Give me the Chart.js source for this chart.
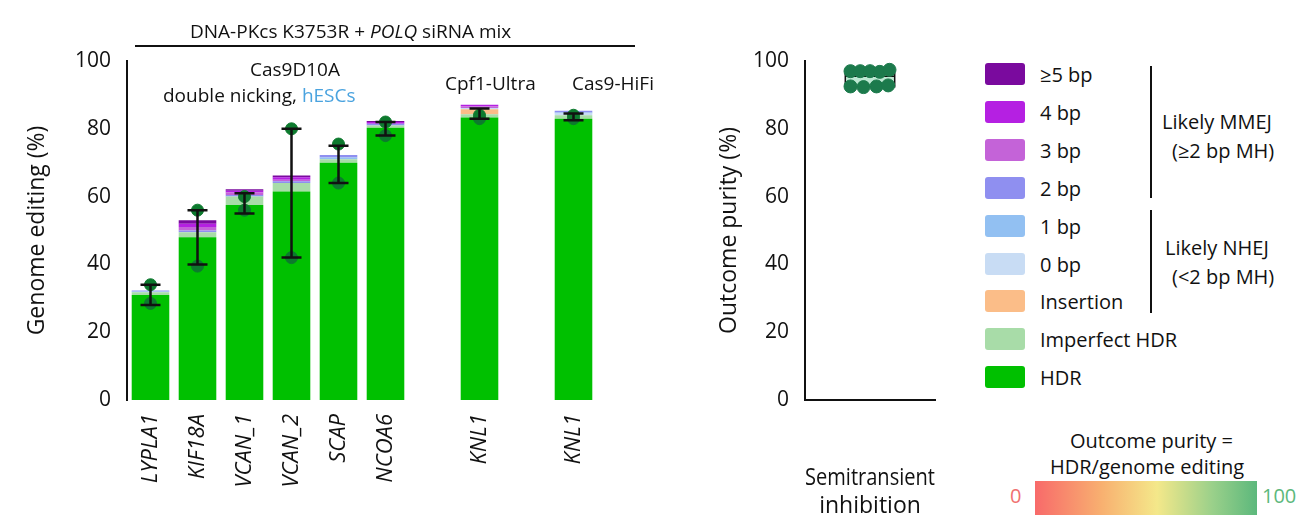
<!DOCTYPE html>
<html><head><meta charset="utf-8">
<script src="https://cdn.jsdelivr.net/npm/chart.js@4"></script>
<style>
body{margin:0;width:1300px;height:524px;position:relative;background:#fff;font-family:"Open Sans",sans-serif;color:#111;overflow:hidden}
canvas{position:absolute;top:0}
.t{position:absolute;font-size:19px;white-space:nowrap}
.sw{position:absolute;left:985px;width:40px;height:22px;border-radius:3px}
.lg{position:absolute;left:1040px;font-size:20px;transform:translateY(-50%)}
.br{position:absolute;width:2px;background:#111;left:1150px}
</style></head><body>
<canvas id="left" width="700" height="524" style="left:0"></canvas>
<canvas id="right" width="260" height="524" style="left:700px"></canvas>
<div class="t" style="left:190px;top:18px">DNA-PKcs K3753R + <i>POLQ</i> siRNA mix</div>
<div style="position:absolute;left:135px;top:45px;width:500px;height:2px;background:#111"></div>
<div class="t" style="left:250px;top:56px">Cas9D10A</div>
<div class="t" style="left:163px;top:82px">double nicking, <span style="color:#4aa3df">hESCs</span></div>
<div class="t" style="left:445px;top:70px">Cpf1-Ultra</div>
<div class="t" style="left:572px;top:70px">Cas9-HiFi</div>
<div id="legend"></div>
<div class="br" style="top:66px;height:132px"></div>
<div class="br" style="top:210px;height:103px"></div>
<div class="t" style="left:1162px;top:108px;font-size:20px">Likely MMEJ</div>
<div class="t" style="left:1172px;top:137px;font-size:20px">(≥2 bp MH)</div>
<div class="t" style="left:1165px;top:234px;font-size:20px">Likely NHEJ</div>
<div class="t" style="left:1172px;top:263px;font-size:20px">(&lt;2 bp MH)</div>
<div class="t" style="left:1070px;top:427px;font-size:20px">Outcome purity =</div>
<div class="t" style="left:1050px;top:453px;font-size:20px">HDR/genome editing</div>
<div style="position:absolute;left:1035px;top:481px;width:222px;height:34px;background:linear-gradient(90deg,#f86a6a,#f8b070 30%,#f4e88a 55%,#9ad08a 80%,#5cb87c)"></div>
<div class="t" style="left:1010px;top:482px;font-size:20px;color:#f07070">0</div>
<div class="t" style="left:1262px;top:482px;font-size:20px;color:#5cb87c">100</div>
<script>
const genes = ['LYPLA1','KIF18A','VCAN_1','VCAN_2','SCAP','NCOA6','','KNL1','','KNL1'];
const hdr       = [31, 48, 57.5, 61.5, 70, 80.3, null, 83.3, null, 83];
const imperfect = [0.8, 1.5, 2.5, 2.5, 1, 0.7, null, 1, null, 1];
const insertion = [0, 0, 0, 0, 0, 0, null, 1.5, null, 0];
const bp0       = [0, 0, 0, 0, 0, 0, null, 0.3, null, 0.5];
const bp1       = [0.2, 0, 0, 0, 0.5, 0, null, 0, null, 0.3];
const bp2       = [0.3, 0.5, 0.5, 0.5, 0.8, 0.5, null, 0, null, 0.5];
const bp3       = [0, 1, 0.7, 0.5, 0, 0, null, 0.5, null, 0];
const bp4       = [0, 1, 0.5, 0.7, 0, 0.5, null, 0.5, null, 0];
const bp5       = [0, 1, 0.5, 0.5, 0, 0.3, null, 0, null, 0];
const repLow    = [28.5, 39.5, 56, 42, 64, 78, null, 83, null, 83];
const repHigh   = [34, 56, 60, 80, 75.5, 82, null, 84, null, 84];
const errLow    = [28, 40, 55, 42, 64, 78, null, 83, null, 82.5];
const errHigh   = [34, 56, 61, 80, 75, 82, null, 86, null, 84.5];
const yTicks = [0, 20, 40, 60, 80, 100];

const purityX = [-0.3, -0.15, 0, 0.15, 0.3, -0.3, -0.1, 0.1, 0.28];
const purityY = [97, 97, 97, 96.8, 97.4, 92.5, 92.3, 92.5, 92.8];
const boxStats = {q1: 92.4, median: 95.5, q3: 96.3};

const seriesNames = ['HDR','Imperfect HDR','Insertion','0 bp','1 bp','2 bp','3 bp','4 bp','≥5 bp'];
const seriesData = [hdr, imperfect, insertion, bp0, bp1, bp2, bp3, bp4, bp5];
const seriesColors = ['#00c000','#a8dca8','#fbbd88','#c8dcf4','#92c0f2','#8f8ff0','#c463d8','#b520e2','#7a0a9e'];

// legend, top item first
const legendY = [74,112,150,188,226,264,301,339,377];
let lg = '';
for (let i = 0; i < 9; i++) {
  const k = 8 - i;
  lg += `<div class="sw" style="top:${legendY[i]-11}px;background:${seriesColors[k]}"></div>`;
  lg += `<div class="lg" style="top:${legendY[i]}px">${seriesNames[k]}</div>`;
}
document.getElementById('legend').innerHTML = lg;

const font = {family: '"Open Sans", sans-serif', size: 21};
Chart.defaults.color = '#111';

const errorBars = {
  id: 'errorBars',
  afterDatasetsDraw(chart) {
    const {ctx, scales: {x, y}} = chart;
    ctx.save();
    ctx.strokeStyle = '#111';
    ctx.lineWidth = 2.5;
    errLow.forEach((lo, i) => {
      if (lo == null) return;
      const px = x.getPixelForValue(i);
      const a = y.getPixelForValue(lo), b = y.getPixelForValue(errHigh[i]);
      ctx.beginPath();
      ctx.moveTo(px, a); ctx.lineTo(px, b);
      ctx.moveTo(px - 10, a); ctx.lineTo(px + 10, a);
      ctx.moveTo(px - 10, b); ctx.lineTo(px + 10, b);
      ctx.stroke();
    });
    ctx.restore();
  }
};

const barSets = seriesData.map((d, i) => ({
  type: 'bar', data: d, backgroundColor: seriesColors[i], stack: 's',
  barPercentage: 0.8, categoryPercentage: 1, order: 2
}));
const ptStyle = {type: 'line', showLine: false, pointRadius: 6, pointBackgroundColor: '#0d7a2e',
  pointBorderColor: '#0d7a2e', order: 1};

new Chart(document.getElementById('left'), {
  data: {labels: genes, datasets: [...barSets,
    {...ptStyle, data: repLow, stack: 'p1'}, {...ptStyle, data: repHigh, stack: 'p2'}]},
  options: {
    responsive: false, animation: false,
    layout: {padding: {top: 61, left: 20, right: 103, bottom: 0}},
    plugins: {legend: {display: false}, tooltip: {enabled: false}},
    scales: {
      x: {stacked: true, grid: {display: false}, border: {display: false},
        afterFit: ax => { ax.height = 124; },
        ticks: {font: {...font, style: 'italic', size: 22}, minRotation: 90, maxRotation: 90, padding: 6}},
      y: {stacked: true, min: 0, max: 100, grid: {display: false},
        border: {color: '#111', width: 2},
        afterFit: ax => { ax.width = 107; },
        afterBuildTicks: ax => { ax.ticks = yTicks.map(v => ({value: v})); },
        ticks: {font, padding: 8},
        title: {display: true, text: 'Genome editing (%)', font: {...font, size: 23}}}
    }
  },
  plugins: [errorBars]
});

const boxPlot = {
  id: 'boxPlot',
  beforeDatasetsDraw(chart) {
    const {ctx, scales: {x, y}} = chart;
    const l = x.getPixelForValue(-0.38), r = x.getPixelForValue(0.38);
    const t = y.getPixelForValue(boxStats.q3), b = y.getPixelForValue(boxStats.q1);
    ctx.save();
    ctx.fillStyle = '#bde8d2';
    ctx.strokeStyle = '#111';
    ctx.lineWidth = 1.5;
    ctx.fillRect(l, t, r - l, b - t);
    ctx.strokeRect(l, t, r - l, b - t);
    const m = y.getPixelForValue(boxStats.median);
    ctx.beginPath(); ctx.moveTo(l, m); ctx.lineTo(r, m); ctx.stroke();
    ctx.restore();
  }
};

new Chart(document.getElementById('right'), {
  type: 'scatter',
  data: {datasets: [{data: purityX.map((x, i) => ({x, y: purityY[i]})),
    pointRadius: 6.5, pointBackgroundColor: '#1c7a4c', pointBorderColor: '#1c7a4c'}]},
  options: {
    responsive: false, animation: false,
    layout: {padding: {top: 61, left: 12, right: 25, bottom: 0}},
    plugins: {legend: {display: false}, tooltip: {enabled: false}},
    scales: {
      x: {min: -1, max: 1, grid: {display: false}, border: {color: '#111', width: 2},
        afterFit: ax => { ax.height = 124; },
        ticks: {display: false},
        title: {display: true, text: ['Semitransient', 'inhibition'], font: {...font, size: 23}, padding: {top: 8}}},
      y: {min: 0, max: 100, grid: {display: false}, border: {color: '#111', width: 2},
        afterFit: ax => { ax.width = 93; },
        afterBuildTicks: ax => { ax.ticks = yTicks.map(v => ({value: v})); },
        ticks: {font, padding: 8},
        title: {display: true, text: 'Outcome purity (%)', font: {...font, size: 23}}}
    }
  },
  plugins: [boxPlot]
});
</script>
</body></html>
